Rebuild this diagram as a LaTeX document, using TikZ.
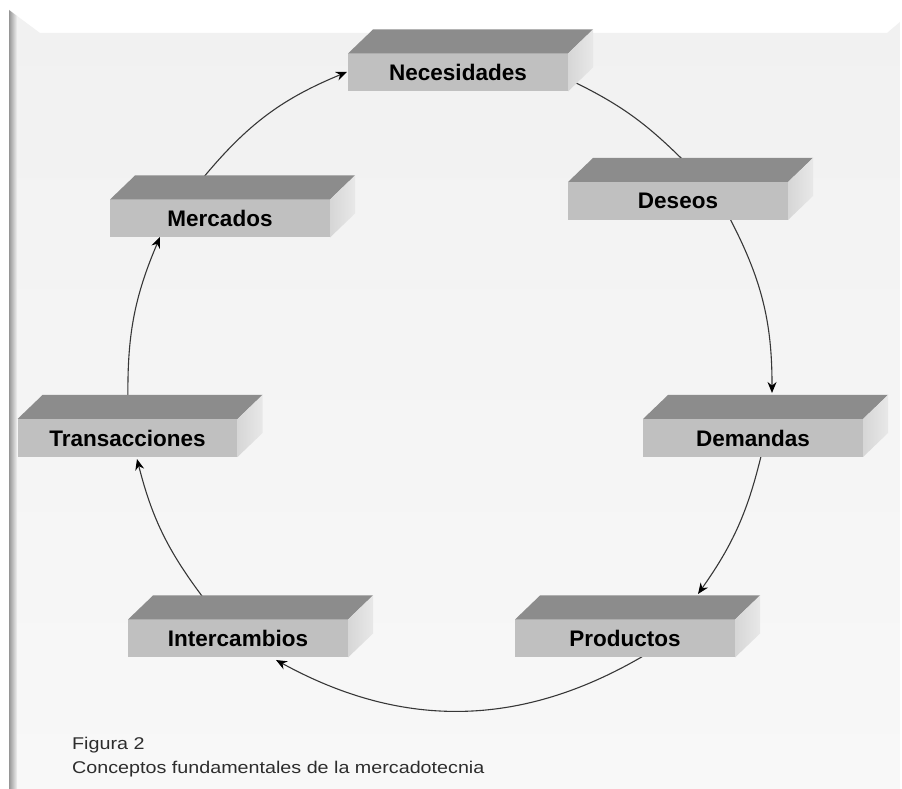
\documentclass[tikz,border=0pt]{standalone}
\usepackage{fontspec}
\setmainfont{Liberation Sans}
\usepackage{graphicx}
\usetikzlibrary{arrows.meta,calc}

\definecolor{paper}{RGB}{241,241,241}
\definecolor{paperlow}{RGB}{248,248,248}
\definecolor{rim}{RGB}{150,150,150}
\definecolor{frontgray}{RGB}{192,192,192}
\definecolor{topgray}{RGB}{140,140,140}
\definecolor{sidelight}{RGB}{214,214,214}
\definecolor{sidepale}{RGB}{232,232,232}
\definecolor{linegray}{RGB}{55,55,55}
\definecolor{captiongray}{RGB}{45,45,45}

% a slab: front face node plus its top and right faces
\newcommand\slab[3]{%
  \node[front] (#1) at (#2) {#3};
  \fill[topgray] (#1.north west) -- ++(25,24) -- ++(220,0) -- (#1.north east) -- cycle;
  \shade[left color=sidelight, right color=sidepale]
    (#1.north east) -- ++(25,24) -- ++(0,-38) -- (#1.south east) -- cycle;
}

\begin{document}
\begin{tikzpicture}[x=1pt,y=1pt,
  front/.style={fill=frontgray, minimum width=220pt, minimum height=38pt,
    inner sep=0pt, outer sep=0pt, text=black,
    font=\fontsize{22.5}{26}\selectfont\bfseries},
  link/.style={draw=linegray, line width=1.1pt},
  tip/.style={-{Stealth[length=11pt,width=9pt,color=black]}},
  caption/.style={anchor=base west, inner sep=0pt, text=captiongray,
    font=\fontsize{17}{20}\selectfont},
]
\useasboundingbox (0,0) rectangle (902,789);

% page and framed panel
\fill[white] (0,0) rectangle (902,789);
\shade[top color=paper, bottom color=paperlow]
  (9,779) -- (40,756) -- (887,756) -- (900,767) -- (900,0) -- (9,0) -- cycle;
\shade[left color=rim, right color=paper]
  (9,0) -- (9,779) -- (17,773) -- (17,0) -- cycle;

% connector ends
\coordinate (m-out) at (203,611);
\coordinate (n-in)  at (347,717);
\coordinate (n-out) at (570,709);
\coordinate (d-in)  at (683,629);
\coordinate (d-out) at (728,574);
\coordinate (dm-in) at (772,396);
\coordinate (dm-out) at (762,337);
\coordinate (p-in)  at (698,195);
\coordinate (p-out) at (650,137);
\coordinate (i-in)  at (276,129);
\coordinate (i-out) at (205,189);
\coordinate (t-in)  at (137,330);
\coordinate (t-out) at (128,389);
\coordinate (m-in)  at (160,552);

% the cycle of connectors
\draw[link,tip] (m-out) to[bend left=14] (n-in);
\draw[link] (n-out) to[bend left=9.5] (d-in);
\draw[link,tip] (d-out) to[bend left=14] (dm-in);
\draw[link,tip] (dm-out) to[bend left=11] (p-in);
\draw[link,tip] (p-out) to[bend left=30] (i-in);
\draw[link,tip] (i-out) to[bend left=11.5] (t-in);
\draw[link,tip] (t-out) to[bend left=12] (m-in);

% slabs
\slab{nec}{458,716.5}{Necesidades}
\slab{des}{678,588}{Deseos}
\slab{dem}{753,351}{Demandas}
\slab{pro}{625,150.5}{Productos}
\slab{int}{238,150.5}{Intercambios}
\slab{tra}{127.5,351}{Transacciones}
\slab{mer}{220,570.5}{Mercados}

% caption
\node[caption] (fig) at (72,39) {\scalebox{1.16}[1]{Figura 2}};
\node[caption] (cap) at (72,15) {\scalebox{1.16}[1]{Conceptos fundamentales de la mercadotecnia}};
\end{tikzpicture}
\end{document}
